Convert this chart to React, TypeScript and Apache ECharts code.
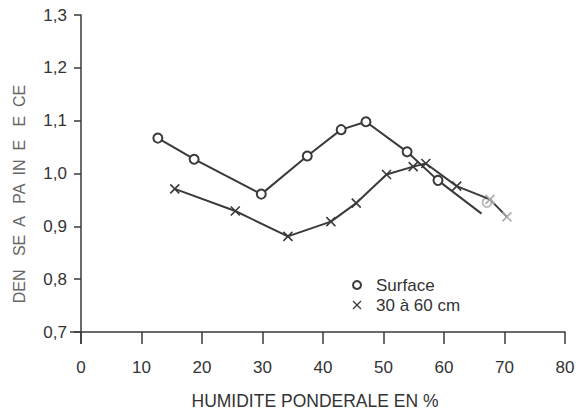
import React, { useEffect, useRef } from "react";
import * as echarts from "echarts";

const surfaceName = "Surface";
const deepName = "30 à 60 cm";
const xTitle = "HUMIDITE PONDERALE EN %";
const yTitle = "DEN   SE  A   PA  IN  E   E  CE";

// [humidity %, density]
const surfaceData: number[][] = [
  [12.7, 1.067], [18.7, 1.027], [29.8, 0.961], [37.4, 1.033], [43.0, 1.083],
  [47.1, 1.098], [53.9, 1.041], [59.0, 0.987], [66.2, 0.924],
];
const surfaceFaded: number[][] = [[67.1, 0.945]];
const deepData: number[][] = [
  [15.5, 0.971], [25.5, 0.929], [34.2, 0.881], [41.3, 0.909], [45.5, 0.944],
  [50.5, 0.998], [54.9, 1.013], [57.0, 1.019], [62.1, 0.976],
];
const deepFaded: number[][] = [[67.6, 0.951], [70.4, 0.918]];

const CROSS = "path://M0,0L10,10M10,0L0,10";
const INK = "#3a3a3a";

export default function App() {
  const ref = useRef<HTMLDivElement>(null);
  useEffect(() => {
    if (!ref.current) return;
    const chart = echarts.init(ref.current, undefined, { renderer: "svg" });
    const font = "Liberation Sans, Arial, sans-serif";
    chart.setOption({
      animation: false,
      backgroundColor: "#ffffff",
      grid: { left: 81, right: 14, top: 15, bottom: 70, containLabel: false },
      xAxis: {
        type: "value",
        min: 0,
        max: 80,
        interval: 10,
        name: xTitle,
        nameLocation: "middle",
        nameGap: 60,
        nameTextStyle: { color: "#333", fontSize: 17.5, fontFamily: font, padding: [0, 16, 0, 0] },
        axisLine: { show: true, lineStyle: { color: INK, width: 1.5 } },
        axisTick: { show: true, length: 12, lineStyle: { color: INK, width: 1.5 } },
        axisLabel: { color: "#333", fontSize: 17, fontFamily: font, margin: 27 },
        splitLine: { show: false },
      },
      yAxis: {
        type: "value",
        min: 0.7,
        max: 1.3,
        interval: 0.1,
        axisLine: { show: true, lineStyle: { color: INK, width: 1.5 } },
        axisTick: { show: true, length: 7, lineStyle: { color: INK, width: 1.5 } },
        axisLabel: {
          color: "#333",
          fontSize: 17,
          fontFamily: font,
          margin: 14,
          formatter: (v: number) => v.toFixed(1).replace(".", ","),
        },
        splitLine: { show: false },
      },
      series: [
        {
          name: surfaceName,
          type: "line",
          data: surfaceData.map((d, i) =>
            i === surfaceData.length - 1 ? { value: d, symbol: "none" } : d
          ),
          symbol: "emptyCircle",
          symbolSize: 9,
          lineStyle: { color: INK, width: 2 },
          itemStyle: { color: INK, borderColor: INK, borderWidth: 1.8 },
        },
        {
          name: surfaceName + " (faded)",
          type: "scatter",
          data: surfaceFaded,
          symbol: "emptyCircle",
          symbolSize: 9,
          itemStyle: { color: "#aaa", borderColor: "#aaa", borderWidth: 1.8 },
        },
        {
          name: deepName,
          type: "line",
          data: [
            ...deepData,
            ...deepFaded.map((d) => ({
              value: d,
              itemStyle: { color: "#aaa", borderColor: "#aaa" },
            })),
          ],
          symbol: CROSS,
          symbolSize: 9,
          lineStyle: { color: INK, width: 2 },
          itemStyle: { color: INK, borderColor: INK, borderWidth: 1.6 },
        },
      ],
    });
    const o = chart.convertToPixel({ gridIndex: 0 }, [0, 0.7]) as number[];
    chart.setOption({
      graphic: [
        {
          type: "line",
          shape: { x1: o[0] - 11, y1: o[1], x2: o[0], y2: o[1] },
          style: { stroke: INK, lineWidth: 1.5 },
        },
        {
          type: "line",
          shape: { x1: o[0], y1: o[1], x2: o[0], y2: o[1] + 12 },
          style: { stroke: INK, lineWidth: 1.5 },
        },
        {
          type: "text",
          x: 19,
          y: 194,
          rotation: Math.PI / 2,
          style: {
            text: yTitle,
            fontSize: 16,
            fontFamily: font,
            fill: "#666",
            align: "center",
            verticalAlign: "middle",
          },
        },
        {
          type: "circle",
          shape: { cx: 357, cy: 285, r: 4 },
          style: { fill: "none", stroke: INK, lineWidth: 2 },
        },
        {
          type: "text",
          x: 376,
          y: 285,
          style: { text: surfaceName, fontSize: 17, fontFamily: font, fill: "#333", verticalAlign: "middle" },
        },
        {
          type: "line",
          shape: { x1: 353, y1: 301, x2: 361, y2: 309 },
          style: { stroke: INK, lineWidth: 1.3 },
        },
        {
          type: "line",
          shape: { x1: 361, y1: 301, x2: 353, y2: 309 },
          style: { stroke: INK, lineWidth: 1.3 },
        },
        {
          type: "text",
          x: 376,
          y: 305,
          style: { text: deepName, fontSize: 17, fontFamily: font, fill: "#333", verticalAlign: "middle" },
        },
      ],
    });
    return () => chart.dispose();
  }, []);
  return (
    <div
      ref={ref}
      style={{ position: "fixed", left: 0, top: 0, width: 579, height: 415 }}
    />
  );
}
